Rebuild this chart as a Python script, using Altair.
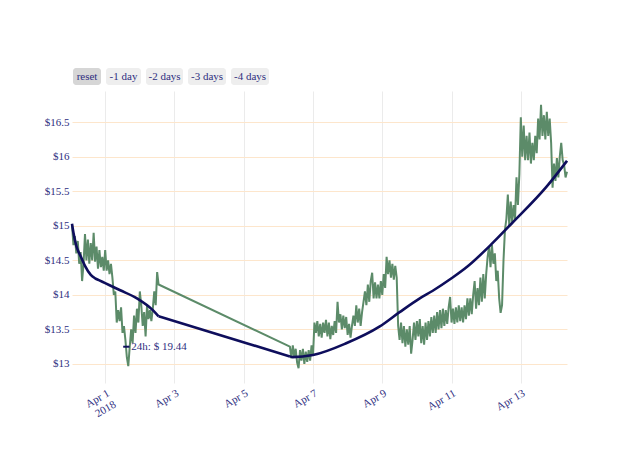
import altair as alt
import pandas as pd

BASE = pd.Timestamp("2018-03-31 00:00")

# ---- price series (hourly), part 1: Mar 31 01:00 .. Apr 2 13:00
price_values_1 = [
    15.02, 14.72, 14.85, 14.60, 14.78, 14.45, 14.62, 14.20, 14.45, 14.88,
    14.50, 14.80, 14.45, 14.75, 14.50, 14.90, 14.48, 14.70, 14.38, 14.65,
    14.40, 14.55, 14.35, 14.65, 14.35, 14.50, 14.30, 14.45, 14.25, 14.00,
    14.05, 13.60, 13.78, 13.62, 13.82, 13.45, 13.55, 13.35, 13.10, 12.97,
    13.25, 13.50, 13.30, 13.70, 13.45, 13.80, 13.60, 14.05, 13.85, 13.55,
    13.75, 13.40, 13.85, 13.65, 13.78, 13.62, 13.80, 14.05, 13.85, 14.33,
    14.15,
]
# part 2: Apr 6 08:00 .. Apr 14 08:00
price_values_2 = [
    13.25, 13.08, 13.27, 13.10, 13.22, 13.02, 12.94, 13.20, 13.05, 13.22,
    13.00, 13.18, 13.03, 13.20, 13.05, 13.27, 13.12, 13.60, 13.45, 13.62,
    13.40, 13.58, 13.38, 13.60, 13.45, 13.64, 13.40, 13.60, 13.36, 13.55,
    13.42, 13.62, 13.45, 13.90, 13.60, 13.72, 13.50, 13.70, 13.52, 13.68,
    13.42, 13.58, 13.38, 13.55, 13.70, 13.55, 13.85, 13.60, 13.80, 13.55,
    13.75, 13.90, 14.05, 13.85, 14.15, 13.90, 14.20, 14.32, 13.95, 14.18,
    13.95, 14.15, 13.95, 14.20, 14.00, 14.30, 14.10, 14.55, 14.30, 14.50,
    14.25, 14.45, 14.22, 14.42, 14.25, 13.55, 13.35, 13.60, 13.30, 13.55,
    13.25, 13.50, 13.28, 13.55, 13.15, 13.35, 13.60, 13.35, 13.62, 13.40,
    13.65, 13.30, 13.55, 13.28, 13.60, 13.35, 13.62, 13.40, 13.68, 13.45,
    13.70, 13.45, 13.75, 13.50, 13.78, 13.52, 13.80, 13.55, 13.78, 13.58,
    13.82, 13.97, 13.60, 13.80, 13.58, 13.82, 13.60, 13.85, 13.62, 13.82,
    13.60, 13.85, 13.65, 13.95, 13.70, 13.95, 13.72, 14.00, 14.20, 13.80,
    14.10, 13.85, 14.25, 13.90, 14.30, 13.95, 14.30, 14.55, 14.70, 14.40,
    14.72, 14.45, 14.60, 14.20, 14.35, 13.95, 13.74, 13.85, 14.50, 14.94,
    15.10, 15.45, 15.00, 15.35, 15.05, 15.30, 15.10, 15.70, 15.30, 15.75,
    16.57, 16.00, 16.45, 15.95, 16.30, 15.95, 16.35, 15.90, 16.20, 15.95,
    16.30, 16.05, 16.55, 16.25, 16.75, 16.30, 16.60, 16.25, 16.65, 16.30,
    16.55, 16.20, 15.55, 15.90, 15.65, 15.98, 15.70, 16.00, 16.20, 15.95,
    15.88, 15.70, 15.78,
]
price_start_1 = 1      # hours after Mar 31 00:00
price_start_2 = 152

# ---- trend line (hours after Mar 31 00:00, value), two stretches
trend_hours_1 = [1, 2, 4, 5, 7, 10, 14, 17, 20, 24, 34, 46, 57, 61]
trend_values_1 = [15.03, 14.90, 14.71, 14.65, 14.56, 14.42, 14.29, 14.24, 14.21, 14.17,
                  14.07, 13.95, 13.78, 13.69]
trend_hours_2 = [152, 154, 168, 191, 214, 228, 242, 251, 264, 275, 291, 306, 330, 344]
trend_values_2 = [13.11, 13.10, 13.13, 13.30, 13.54, 13.75, 13.95, 14.06, 14.24, 14.41,
                  14.72, 15.04, 15.57, 15.94]

y_ticks = [13, 13.5, 14, 14.5, 15, 15.5, 16, 16.5]
x_tick_days = [1, 3, 5, 7, 9, 11, 13]
buttons = ["reset", "-1 day", "-2 days", "-3 days", "-4 days"]
note_text = "24h: $ 19.44"
note_time = "2018-04-01T14:40:00"
note_value = 13.25

FONT = "Liberation Serif"
TXT = "#2e2e80"
GREEN = "#5c8b69"
NAVY = "#0e0e5c"


def to_iso(h):
    return (BASE + pd.Timedelta(hours=h)).strftime("%Y-%m-%dT%H:%M:%S")


price_rows = []
for k, v in enumerate(price_values_1):
    price_rows.append({"time": to_iso(price_start_1 + k), "value": v})
for k, v in enumerate(price_values_2):
    price_rows.append({"time": to_iso(price_start_2 + k), "value": v})
price_df = pd.DataFrame(price_rows)

trend_curve_df = pd.DataFrame(
    [{"time": to_iso(h), "value": v, "seg": "a"} for h, v in zip(trend_hours_1, trend_values_1)]
    + [{"time": to_iso(h), "value": v, "seg": "b"} for h, v in zip(trend_hours_2, trend_values_2)]
)
trend_gap_df = pd.DataFrame({
    "time": [to_iso(trend_hours_1[-1]), to_iso(trend_hours_2[0])],
    "value": [trend_values_1[-1], trend_values_2[0]],
})
note_df = pd.DataFrame({"time": [note_time], "value": [note_value], "label": [note_text]})

xs = alt.Scale(domain=[alt.DateTime(year=2018, month=3, date=31, hours=1),
                       alt.DateTime(year=2018, month=4, date=14, hours=8)])
ys = alt.Scale(domain=[12.725, 16.95], nice=False, zero=False)

x_axis = alt.Axis(
    values=[alt.DateTime(year=2018, month=4, date=d) for d in x_tick_days],
    labelExpr="date(datum.value) == 1 ? [timeFormat(datum.value, '%b %-d'), '2018'] : timeFormat(datum.value, '%b %-d')",
    labelAngle=330, labelAlign="right", labelBaseline="top", labelPadding=4,
    grid=True, gridColor="#ebebeb", domain=False, ticks=False, title=None,
    labelFont=FONT, labelFontSize=11, labelColor=TXT, labelOverlap=False,
)
y_axis = alt.Axis(
    values=y_ticks, labelExpr="'$' + datum.value",
    grid=True, gridColor="#fde6cc", domain=False, ticks=False, title=None,
    labelFont=FONT, labelFontSize=11, labelColor=TXT, labelPadding=3,
)

X = alt.X("time:T", scale=xs, axis=x_axis)
Y = alt.Y("value:Q", scale=ys, axis=y_axis)

price = alt.Chart(price_df).mark_line(color=GREEN, strokeWidth=2.0).encode(x=X, y=Y)
trend_curve = alt.Chart(trend_curve_df).mark_line(
    color=NAVY, strokeWidth=2.6, interpolate="monotone").encode(x=X, y=Y, detail="seg:N")
trend_gap = alt.Chart(trend_gap_df).mark_line(color=NAVY, strokeWidth=2.6).encode(x=X, y=Y)
note_mark = alt.Chart(note_df).mark_point(shape="M-1,0L1,0", filled=False, stroke=NAVY,
                                          strokeWidth=2, size=40, opacity=1).encode(x=X, y=Y)
note_label = alt.Chart(note_df).mark_text(align="left", baseline="middle", dx=5, font=FONT,
                                          fontSize=11, color=TXT).encode(x=X, y=Y, text="label:N")

# range-selector buttons (layout in pixels relative to the plot area)
btn_left = [1, 34, 74, 116, 159]
btn_right = [29, 69, 111, 154, 197]
btn_layers = []
for i, lab in enumerate(buttons):
    d = pd.DataFrame({"label": [lab]})
    fill = "#d6d6d6" if i == 0 else "#eeeeee"
    btn_layers.append(
        alt.Chart(d).mark_rect(fill=fill, cornerRadius=3).encode(
            x=alt.value(btn_left[i]), x2=alt.value(btn_right[i]),
            y=alt.value(-23), y2=alt.value(-6))
    )
    btn_layers.append(
        alt.Chart(d).mark_text(align="center", baseline="middle", font=FONT, fontSize=11,
                               color=TXT).encode(
            x=alt.value((btn_left[i] + btn_right[i]) / 2), y=alt.value(-14.5), text="label:N")
    )

chart = alt.layer(price, trend_gap, trend_curve, note_mark, note_label, *btn_layers).properties(
    width=495, height=292,
    autosize=alt.AutoSizeParams(type="none"),
    padding={"left": 72, "top": 91, "right": 73, "bottom": 74},
    view=alt.ViewBackground(stroke="transparent", strokeWidth=0),
).configure_view(stroke="transparent", strokeWidth=0).configure(background="white")

chart.save("out.html", embed_options={"renderer": "svg", "actions": False})
